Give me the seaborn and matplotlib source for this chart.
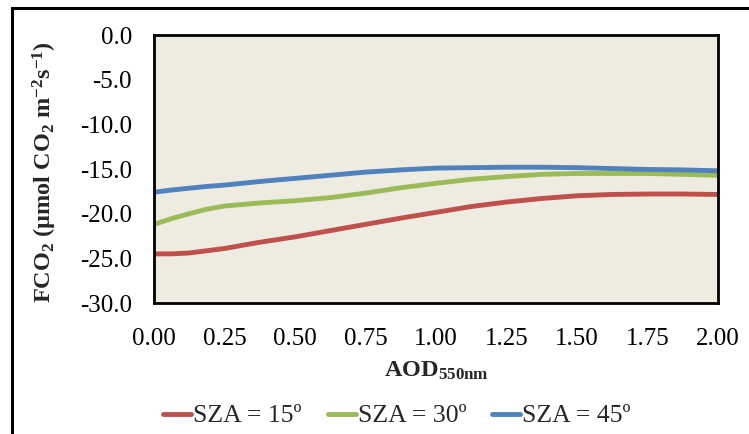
import numpy as np
import pandas as pd
import seaborn as sns
import matplotlib
matplotlib.use("Agg")
import matplotlib.pyplot as plt
from matplotlib.patches import Rectangle

aod = [0, 0.0625, 0.125, 0.1875, 0.25, 0.375, 0.5, 0.625, 0.75, 0.875, 1.0,
       1.125, 1.25, 1.375, 1.5, 1.625, 1.75, 1.875, 2.0]
sza15 = [-24.5, -24.5, -24.4, -24.15, -23.9, -23.2, -22.6, -21.9, -21.2,
         -20.5, -19.85, -19.2, -18.7, -18.3, -18.0, -17.85, -17.8, -17.8,
         -17.85]
sza30 = [-21.2, -20.55, -20.0, -19.5, -19.15, -18.8, -18.55, -18.2, -17.7,
         -17.1, -16.6, -16.15, -15.85, -15.6, -15.5, -15.5, -15.5, -15.6,
         -15.7]
sza45 = [-17.6, -17.35, -17.15, -16.95, -16.8, -16.4, -16.05, -15.7, -15.35,
         -15.1, -14.9, -14.85, -14.8, -14.8, -14.85, -14.95, -15.05, -15.1,
         -15.2]
series_names = ["SZA = 15º", "SZA = 30º", "SZA = 45º"]
xticks = [0.0, 0.25, 0.5, 0.75, 1.0, 1.25, 1.5, 1.75, 2.0]
yticks = [0, -5, -10, -15, -20, -25, -30]

df = pd.concat([
    pd.DataFrame({"AOD": aod, "FCO2": v, "Series": n})
    for n, v in zip(series_names, [sza15, sza30, sza45])
])

sns.set_theme(style="white")
plt.rcParams["font.family"] = ["Liberation Serif", "DejaVu Serif"]
plt.rcParams["mathtext.fontset"] = "custom"
plt.rcParams["mathtext.rm"] = "Liberation Serif:bold"
plt.rcParams["mathtext.bf"] = "Liberation Serif:bold"
plt.rcParams["mathtext.it"] = "Liberation Serif:bold"
plt.rcParams["axes.unicode_minus"] = False

fig = plt.figure(figsize=(7.49, 4.34), dpi=100)
ax = fig.add_axes([154 / 749, 1 - 303 / 434, (718 - 154) / 749, (303 - 35) / 434])
ax.set_facecolor("#EEECE1")

palette = {"SZA = 15º": "#C0504D", "SZA = 30º": "#9BBB59", "SZA = 45º": "#4F81BD"}
sns.lineplot(data=df, x="AOD", y="FCO2", hue="Series", palette=palette,
             linewidth=3.5, ax=ax, legend=True)

ax.set_xlim(0, 2)
ax.set_ylim(-30, 0)
ax.set_xticks(xticks)
ax.set_xticklabels([f"{t:.2f}" for t in xticks])
ax.set_yticks(yticks)
ax.set_yticklabels([f"{t:.1f}" for t in yticks])
ax.tick_params(axis="both", length=0, labelsize=18, colors="black")
ax.tick_params(axis="x", pad=18)
ax.tick_params(axis="y", pad=16)

for s in ax.spines.values():
    s.set_color("black")
    s.set_linewidth(2.0)

ax.set_xlabel("AOD$_{550nm}$", fontsize=17.5, fontweight="bold")
ax.xaxis.set_label_coords(0.5, -0.21)
ax.set_ylabel("FCO$_{2}$ (\u00b5mol CO$_{2}$ m$^{-2}$s$^{-1}$)", fontsize=17.5,
              fontweight="bold")
ax.yaxis.set_label_coords(-0.168, 0.49)

handles, labels = ax.get_legend_handles_labels()
for h in handles:
    h.set_linewidth(3.5)
ax.get_legend().remove()
fig.legend(handles, labels, loc="center", bbox_to_anchor=(397 / 749, 1 - 416 / 434),
           ncol=3, frameon=False, fontsize=18.5, handlelength=1.1,
           handletextpad=0.08, columnspacing=1.0)

fig.patches.append(Rectangle((12 / 749, -0.1), 1.2, 1.1 - 8 / 434,
                             transform=fig.transFigure, fill=False,
                             edgecolor="black", linewidth=2.2))

fig.savefig("out.png", dpi=100)
